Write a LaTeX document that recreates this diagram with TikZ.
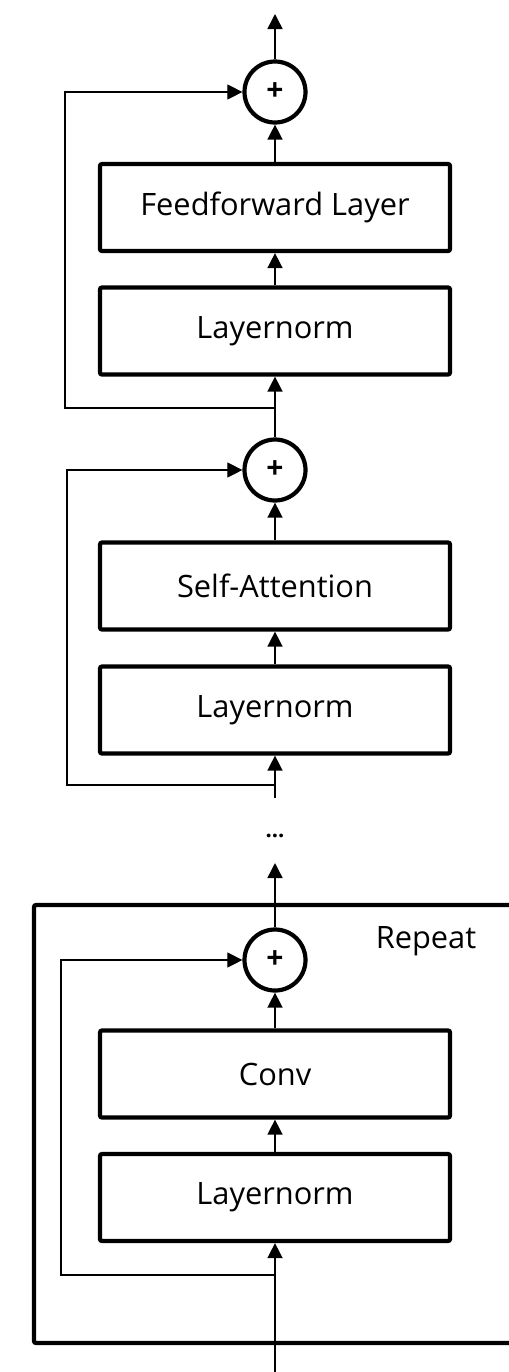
\documentclass[tikz,border=0pt]{standalone}
\usepackage{fontspec}
\setmainfont{Open Sans}
\usetikzlibrary{arrows.meta}

\begin{document}
\begin{tikzpicture}[x=0.5pt,y=-0.5pt,>={Triangle[length=7.5pt,width=7.5pt]},
    block/.style={draw,line width=2.1pt,rounded corners=1pt,minimum width=175pt,minimum height=43.5pt,
        font=\fontsize{15.4}{18}\selectfont},
    plus/.style={draw,circle,line width=2.1pt,minimum size=30.5pt,inner sep=0pt,fill=white,
        font=\fontsize{15}{16}\selectfont\bfseries},
    flow/.style={->,line width=0.75pt},
    skip/.style={->,line width=0.55pt}]
    \useasboundingbox (0,0) rectangle (509,1372);
    \clip (0,0) rectangle (509,1372);
    % repeated conv block frame
    \draw[line width=2.1pt,rounded corners=1pt] (34,905) rectangle (560,1343);
    \node[font=\fontsize{15.4}{18}\selectfont,anchor=base] (rep) at (426,948) {Repeat};
    % layers
    \foreach \name/\y/\txt in {ff/207.5/Feedforward Layer,ln1/331/Layernorm,att/586/Self-Attention,
            ln2/710/Layernorm,conv/1074/Conv,ln3/1197.5/Layernorm}
        \node[block] (\name) at (275,\y) {\txt};
    \foreach \name/\y in {add1/92,add2/470,add3/960}
        \node[plus] (\name) at (275,\y) {+};
    \node[font=\fontsize{11}{12}\selectfont\bfseries] (dots) at (275,836) {...};
    \coordinate (out) at (275,14);
    \coordinate (tip) at (275,863);
    \coordinate (cut) at (275,798);
    \coordinate (in) at (275,1372);
    \coordinate (br1) at (275,408);
    \coordinate (br2) at (275,785);
    \coordinate (br3) at (275,1275);
    % main path
    \draw[flow] (add1) -- (out);
    \draw[flow] (ff) -- (add1);
    \draw[flow] (ln1) -- (ff);
    \draw[flow] (add2) -- (ln1);
    \draw[flow] (att) -- (add2);
    \draw[flow] (ln2) -- (att);
    \draw[flow] (cut) -- (ln2);
    \draw[flow] (add3) -- (tip);
    \draw[flow] (conv) -- (add3);
    \draw[flow] (ln3) -- (conv);
    \draw[flow] (in) -- (ln3);
    % residual connections
    \draw[skip] (br1) -- ++(-210,0) |- (add1);
    \draw[skip] (br2) -- ++(-208,0) |- (add2);
    \draw[skip] (br3) -- ++(-214,0) |- (add3);
\end{tikzpicture}
\end{document}
